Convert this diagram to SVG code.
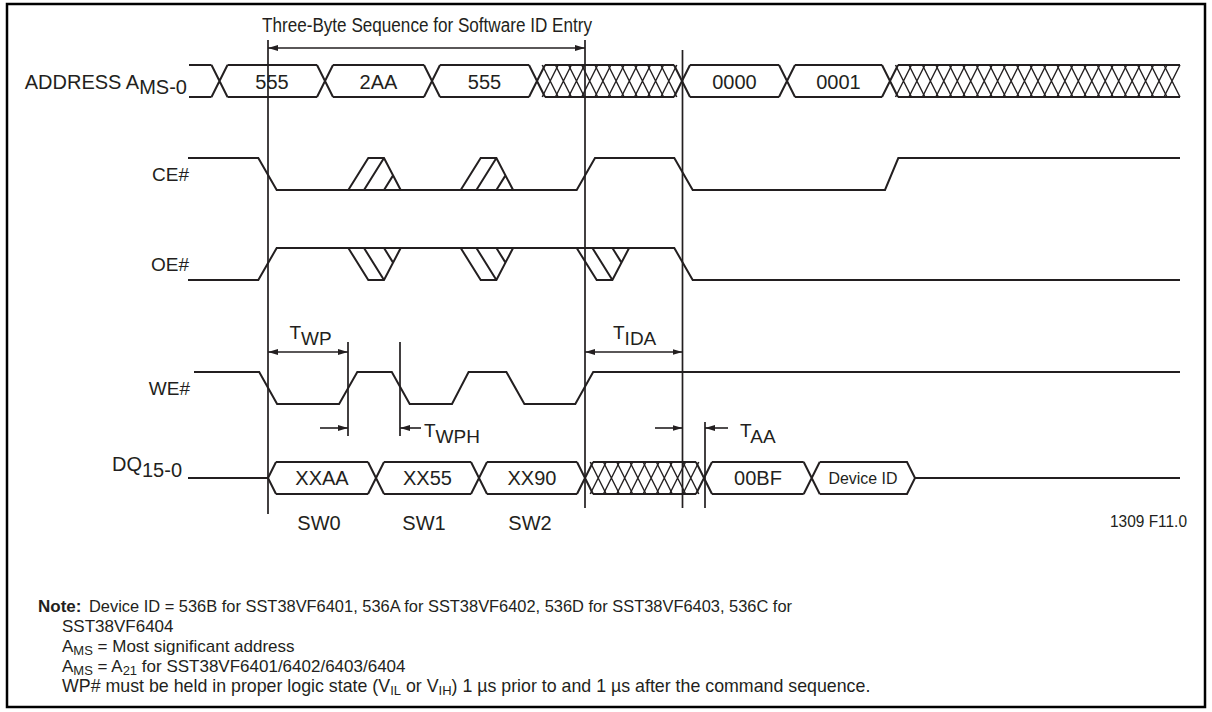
<svg xmlns="http://www.w3.org/2000/svg" xmlns:xlink="http://www.w3.org/1999/xlink" width="1212" height="712" viewBox="0 0 1212 712">
<style>
.w{fill:none;stroke:#231f20;stroke-width:2;stroke-linejoin:miter}
.h{fill:none;stroke:#231f20;stroke-width:1.4}
.v{fill:none;stroke:#231f20;stroke-width:1.7}
.a{fill:none;stroke:#231f20;stroke-width:1.6}
.t{font-family:"Liberation Sans",Arial,Helvetica,sans-serif;font-size:20px;fill:#231f20}
.s{font-family:"Liberation Sans",Arial,Helvetica,sans-serif;font-size:19px;fill:#231f20}
.tm{font-family:"Liberation Sans",Arial,Helvetica,sans-serif;font-size:19px;fill:#231f20}
.sm{font-family:"Liberation Sans",Arial,Helvetica,sans-serif;font-size:17px;fill:#231f20}
.n{font-family:"Liberation Sans",Arial,Helvetica,sans-serif;font-size:17px;fill:#231f20}
.c{text-anchor:middle}
.e{text-anchor:end}
</style>
<defs>
<path id="xc" d="M-8,0L8,32M-8,32L8,0"/>
<path id="trapU" d="M0,32L20,0H35.7L52.4,32M15.7,32L35.7,0M35.7,32L44.8,17.4"/>
<path id="trapD" d="M0,0L20,32H35.7L52.4,0M15.7,0L35.7,32M35.7,0L44.8,14.6"/>
<marker id="ah" viewBox="0 0 10 6" refX="10" refY="3" markerWidth="10" markerHeight="6" markerUnits="userSpaceOnUse" orient="auto-start-reverse">
<path d="M0,0L10,3L0,6z" fill="#231f20"/>
</marker>
</defs>
<rect width="1212" height="712" fill="#fff"/>
<rect x="7" y="4" width="1198" height="703" fill="none" stroke="#000" stroke-width="2.5"/>

<text class="t c" x="427" y="32" textLength="330" lengthAdjust="spacingAndGlyphs">Three-Byte Sequence for Software ID Entry</text>

<g id="address">
<text class="t e" x="187" y="89">ADDRESS A<tspan dy="5">MS-0</tspan></text>
<path class="w" d="M189,65H211.5M189,97H211.5M227.5,65H317M227.5,97H317M333,65H424M333,97H424M440,65H529M440,97H529M545,65H674M545,97H674M690,65H779M690,97H779M795,65H882M795,97H882M898,65H1180M898,97H1180"/>
<g class="w">
<use xlink:href="#xc" x="219.5" y="65"/><use xlink:href="#xc" x="325" y="65"/><use xlink:href="#xc" x="432" y="65"/><use xlink:href="#xc" x="537" y="65"/><use xlink:href="#xc" x="682" y="65"/><use xlink:href="#xc" x="787" y="65"/><use xlink:href="#xc" x="890" y="65"/>
</g>
<g class="h">
<use xlink:href="#xc" x="550.2" y="65"/><use xlink:href="#xc" x="563.4" y="65"/><use xlink:href="#xc" x="576.5" y="65"/><use xlink:href="#xc" x="589.7" y="65"/><use xlink:href="#xc" x="602.9" y="65"/><use xlink:href="#xc" x="616.1" y="65"/><use xlink:href="#xc" x="629.3" y="65"/><use xlink:href="#xc" x="642.5" y="65"/><use xlink:href="#xc" x="655.6" y="65"/><use xlink:href="#xc" x="668.8" y="65"/>
<use xlink:href="#xc" x="903.5" y="65"/><use xlink:href="#xc" x="916.9" y="65"/><use xlink:href="#xc" x="930.4" y="65"/><use xlink:href="#xc" x="943.8" y="65"/><use xlink:href="#xc" x="957.3" y="65"/><use xlink:href="#xc" x="970.7" y="65"/><use xlink:href="#xc" x="984.2" y="65"/><use xlink:href="#xc" x="997.6" y="65"/><use xlink:href="#xc" x="1011.1" y="65"/><use xlink:href="#xc" x="1024.5" y="65"/><use xlink:href="#xc" x="1038" y="65"/><use xlink:href="#xc" x="1051.4" y="65"/><use xlink:href="#xc" x="1064.9" y="65"/><use xlink:href="#xc" x="1078.3" y="65"/><use xlink:href="#xc" x="1091.8" y="65"/><use xlink:href="#xc" x="1105.2" y="65"/><use xlink:href="#xc" x="1118.7" y="65"/><use xlink:href="#xc" x="1132.1" y="65"/><use xlink:href="#xc" x="1145.6" y="65"/><use xlink:href="#xc" x="1159" y="65"/><use xlink:href="#xc" x="1172" y="65"/>
</g>
<text class="t c" x="272" y="89">555</text>
<text class="t c" x="378.5" y="89">2AA</text>
<text class="t c" x="484.5" y="89">555</text>
<text class="t c" x="734.5" y="89">0000</text>
<text class="t c" x="838.5" y="89">0001</text>
</g>

<g id="ce">
<text class="s e" x="189" y="181">CE#</text>
<path class="w" d="M188,158H258.3L276.7,190H576.7L595,158H674.3L692.7,190H885L898.3,158H1180"/>
<use class="w" xlink:href="#trapU" transform="translate(348.3,158)"/>
<use class="w" xlink:href="#trapU" transform="translate(460.7,158)"/>
</g>

<g id="oe">
<text class="s e" x="189" y="271">OE#</text>
<path class="w" d="M188,280H258.3L276.7,248H674.3L692.7,280H1180"/>
<use class="w" xlink:href="#trapD" transform="translate(348.3,248)"/>
<use class="w" xlink:href="#trapD" transform="translate(460.7,248)"/>
<use class="w" xlink:href="#trapD" transform="translate(576.7,248)"/>
</g>

<g id="we">
<text class="s e" x="190" y="395">WE#</text>
<path class="w" d="M194,372H259.2L277.1,404H339.1L357.3,372H391.8L409.7,404H452L468.6,372H506.4L524.4,404H575.3L593.2,372H1180"/>
</g>

<g id="dq">
<text class="t e" x="182" y="471">DQ<tspan dy="6">15-0</tspan></text>
<path class="w" d="M188,478H268M276,462L268,478L276,494M276,462H368M276,494H368M384,462H471M384,494H471M487,462H577M487,494H577M593,462H696M593,494H696M712,462H803.7M712,494H803.7M819.7,462H907L915,478L907,494H819.7M915,478H1180"/>
<g class="w">
<use xlink:href="#xc" x="376" y="462"/><use xlink:href="#xc" x="479" y="462"/><use xlink:href="#xc" x="585" y="462"/><use xlink:href="#xc" x="704" y="462"/><use xlink:href="#xc" x="811.7" y="462"/>
</g>
<g class="h">
<use xlink:href="#xc" x="598.2" y="462"/><use xlink:href="#xc" x="611.4" y="462"/><use xlink:href="#xc" x="624.7" y="462"/><use xlink:href="#xc" x="637.9" y="462"/><use xlink:href="#xc" x="651.1" y="462"/><use xlink:href="#xc" x="664.3" y="462"/><use xlink:href="#xc" x="677.6" y="462"/><use xlink:href="#xc" x="690.8" y="462"/>
</g>
<text class="t c" x="322" y="485">XXAA</text>
<text class="t c" x="427.5" y="485">XX55</text>
<text class="t c" x="532" y="485">XX90</text>
<text class="t c" x="758" y="485">00BF</text>
<text class="sm c" x="863" y="484" textLength="69" lengthAdjust="spacingAndGlyphs">Device ID</text>
<text class="t c" x="319" y="530">SW0</text>
<text class="t c" x="424" y="530">SW1</text>
<text class="t c" x="530" y="530">SW2</text>
</g>

<g id="connectors">
<path class="v" d="M268,40V514M585,40V508M682.5,50V508M705,422V508M348,342V436M400,342V436"/>
<path class="a" d="M268,48H585" marker-start="url(#ah)" marker-end="url(#ah)"/>
<path class="a" d="M268,352H348" marker-start="url(#ah)" marker-end="url(#ah)"/>
<path class="a" d="M585,352H682.5" marker-start="url(#ah)" marker-end="url(#ah)"/>
<path class="a" d="M320,428H348" marker-end="url(#ah)"/>
<path class="a" d="M421,428H400" marker-end="url(#ah)"/>
<path class="a" d="M655,428H682.5" marker-end="url(#ah)"/>
<path class="a" d="M728,428H705" marker-end="url(#ah)"/>
</g>

<g id="timing-labels">
<text class="tm" x="289.5" y="339">T<tspan dy="6">WP</tspan></text>
<text class="tm" x="613" y="339">T<tspan dy="6">IDA</tspan></text>
<text class="tm" x="424" y="437">T<tspan dy="6">WPH</tspan></text>
<text class="tm" x="740" y="437">T<tspan dy="6">AA</tspan></text>
</g>

<text class="sm" x="1110" y="527" textLength="77" lengthAdjust="spacingAndGlyphs">1309 F11.0</text>

<g id="notes">
<text class="n" x="38" y="612" font-weight="bold">Note:</text>
<text class="n" x="89" y="612" textLength="703" lengthAdjust="spacingAndGlyphs">Device ID = 536B for SST38VF6401, 536A for SST38VF6402, 536D for SST38VF6403, 536C for</text>
<text class="n" x="62" y="632">SST38VF6404</text>
<text class="n" x="62" y="652">A<tspan dy="3" font-size="13">MS</tspan><tspan dy="-3"> = Most significant address</tspan></text>
<text class="n" x="62" y="672">A<tspan dy="3" font-size="13">MS</tspan><tspan dy="-3"> = A</tspan><tspan dy="3" font-size="13">21</tspan><tspan dy="-3"> for SST38VF6401/6402/6403/6404</tspan></text>
<text class="n" x="62" y="692" style="font-size:17.8px">WP# must be held in proper logic state (V<tspan dy="3" font-size="13">IL</tspan><tspan dy="-3"> or V</tspan><tspan dy="3" font-size="13">IH</tspan><tspan dy="-3">) 1 µs prior to and 1 µs after the command sequence.</tspan></text>
</g>
</svg>
